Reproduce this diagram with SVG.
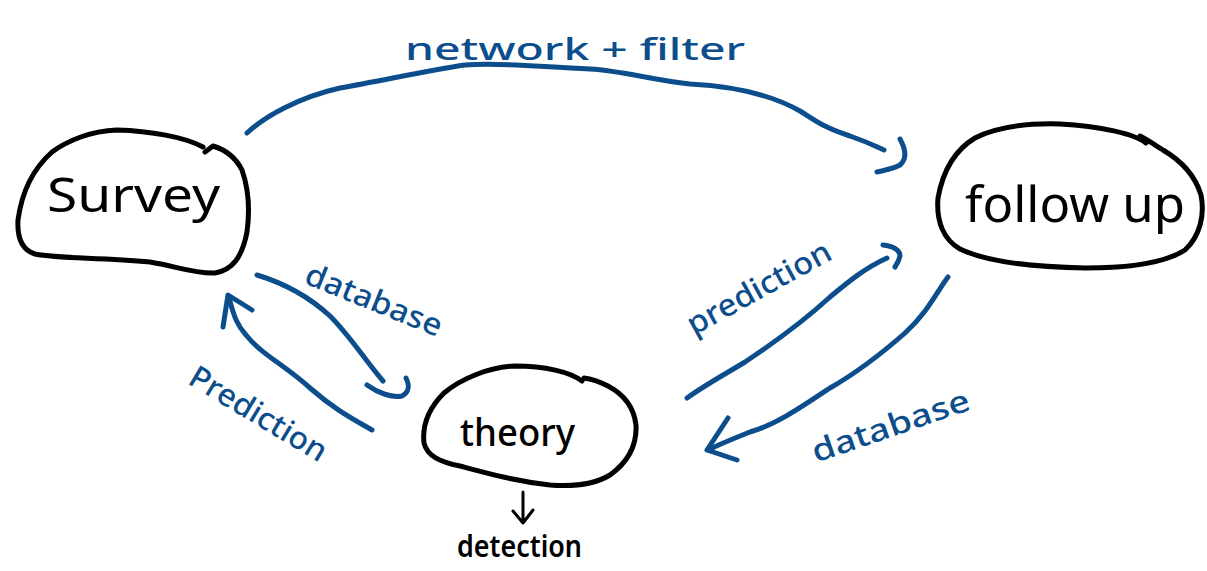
<svg xmlns="http://www.w3.org/2000/svg" width="1207" height="571" viewBox="0 0 1207 571">
  <style>
    .blob { fill: none; stroke: #000; stroke-width: 5; stroke-linecap: round; stroke-linejoin: round; }
    .ink { fill: none; stroke: #0c4e8c; stroke-width: 5; stroke-linecap: round; stroke-linejoin: round; }
    .thin { fill: none; stroke: #000; stroke-width: 3; stroke-linecap: round; stroke-linejoin: round; }
    .name { font-family: "Noto Sans", "DejaVu Sans", sans-serif; fill: #000; }
    .lbl { font-family: "Noto Sans", "DejaVu Sans", sans-serif; fill: #0c4e8c; font-size: 31px; font-weight: 500; }
  </style>

  <rect width="1207" height="571" fill="#fff"/>

  <!-- nodes -->
  <g id="survey">
    <path class="blob" d="M203,147 C185,137 150,131 117,130 C90,131 67,141 52,152 C34,168 22,190 18,220 C17,238 22,250 35,254 C60,259 100,257 150,262 C175,266 195,274 215,273 C232,270 242,258 247,232 C250,210 249,190 242,170 C236,158 226,150 213,146 L205,152"/>
    <text class="name" x="47" y="212" font-size="48" textLength="173" lengthAdjust="spacingAndGlyphs">Survey</text>
  </g>

  <g id="follow-up">
    <path class="blob" d="M1146,143 C1135,134 1100,126 1060,124 C1025,123 995,128 975,138 C955,150 943,170 938,198 C936,222 944,240 960,249 C985,261 1030,267 1085,268 C1130,268 1165,263 1185,250 C1200,236 1205,215 1201,195 C1195,175 1180,160 1163,150 C1155,145 1148,140 1140,136"/>
    <text class="name" x="965" y="222" font-size="50" textLength="220" lengthAdjust="spacingAndGlyphs">follow up</text>
  </g>

  <g id="theory">
    <path class="blob" d="M582,381 C570,372 545,366 515,366 C490,367 462,378 444,393 C429,408 422,425 424,443 C427,456 440,462 460,466 C490,474 515,481 550,485 C575,487 595,484 610,475 C628,462 637,445 636,425 C634,408 625,395 608,386 C600,382 592,379 584,378"/>
    <text class="name" x="460" y="446" font-size="38" font-weight="500" textLength="115" lengthAdjust="spacingAndGlyphs">theory</text>
  </g>

  <g id="detection">
    <text class="name" x="457" y="557" font-size="31" font-weight="600" textLength="125" lengthAdjust="spacingAndGlyphs">detection</text>
  </g>

  <!-- connectors -->
  <g id="connectors">
    <!-- survey to follow up -->
    <path class="ink" d="M247,133 C265,116 300,97 340,88 C385,80 430,70 465,65 C500,62 540,67 590,69 C625,71 650,80 690,84 C730,86 770,94 800,111 C815,120 822,127 850,136 C870,143 877,147 884,150"/>
    <path class="ink" d="M900,139 C905,148 908,158 900,165 C893,169 885,170 877,172"/>

    <!-- survey to theory -->
    <path class="ink" d="M257,275 C280,282 305,293 330,316 C350,336 365,360 383,381"/>
    <path class="ink" d="M367,385 C378,393 392,398 402,396 C410,392 409,384 406,378"/>

    <!-- theory to survey -->
    <path class="ink" d="M372,430 C355,420 335,410 310,388 C285,365 262,355 246,335 C238,326 234,318 229,297"/>
    <path class="ink" d="M223,327 L228,295 L252,310"/>

    <!-- theory to follow up -->
    <path class="ink" d="M687,398 C705,385 722,376 745,362 C775,342 805,320 830,297 C848,282 865,268 887,258"/>
    <path class="ink" d="M883,245 C893,246 900,250 900,256 C899,261 897,264 895,267"/>

    <!-- follow up to theory -->
    <path class="ink" d="M948,277 C938,290 928,312 905,333 C880,355 858,372 830,388 C800,408 775,425 750,432 C735,438 722,443 708,450"/>
    <path class="ink" d="M728,418 L707,450 L737,460"/>

    <!-- theory to detection -->
    <path class="thin" d="M523,492 L523,523 M513,511 L523,523 L533,510"/>
  </g>

  <!-- connector labels -->
  <g id="labels">
    <text class="lbl" x="575" y="60" font-size="40" text-anchor="middle" textLength="340" lengthAdjust="spacingAndGlyphs">network + filter</text>
    <text class="lbl" transform="translate(370,310) rotate(22)" text-anchor="middle" textLength="145" lengthAdjust="spacingAndGlyphs">database</text>
    <text class="lbl" transform="translate(253,423) rotate(31)" text-anchor="middle" textLength="155" lengthAdjust="spacingAndGlyphs">Prediction</text>
    <text class="lbl" transform="translate(764,297) rotate(-29)" text-anchor="middle" textLength="160" lengthAdjust="spacingAndGlyphs">prediction</text>
    <text class="lbl" transform="translate(894,436) rotate(-19)" font-size="33" text-anchor="middle" textLength="165" lengthAdjust="spacingAndGlyphs">database</text>
  </g>
</svg>
